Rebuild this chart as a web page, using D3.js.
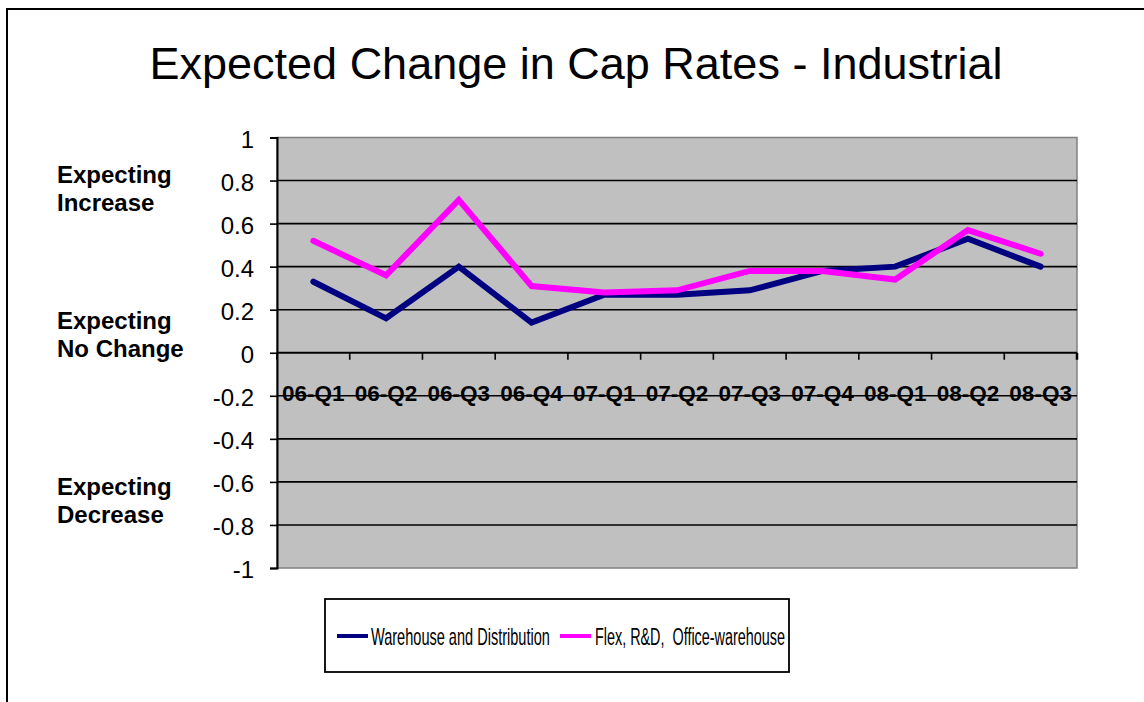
<!DOCTYPE html>
<html><head><meta charset="utf-8">
<script src="https://cdn.jsdelivr.net/npm/d3@7"></script>
<style>html,body{margin:0;padding:0;background:#fff;}svg{display:block;font-family:"Liberation Sans",Arial,sans-serif;}</style>
</head><body>
<script>
const categories = ["06-Q1","06-Q2","06-Q3","06-Q4","07-Q1","07-Q2","07-Q3","07-Q4","08-Q1","08-Q2","08-Q3"];
const warehouse = [0.33,0.16,0.40,0.14,0.27,0.27,0.29,0.38,0.40,0.53,0.40];
const flex = [0.52,0.36,0.71,0.31,0.28,0.29,0.38,0.38,0.34,0.57,0.46];
const yTicks = [1,0.8,0.6,0.4,0.2,0,-0.2,-0.4,-0.6,-0.8,-1];
const seriesNames = ["Warehouse and Distribution","Flex, R&D,\u00a0 Office-warehouse"];
const seriesColors = ["#000080","#FF00FF"];
const sideLabels = [["Expecting","Increase",0.8],["Expecting","No Change",0.12],["Expecting","Decrease",-0.65]];

const W=1144,H=702;
const svg=d3.select("body").append("svg").attr("width",W).attr("height",H);
svg.append("rect").attr("x",7).attr("y",9).attr("width",W+10).attr("height",H+10)
  .attr("fill","#fff").attr("stroke","#000").attr("stroke-width",2);

const L=277,R=1077,T=137.5,B=568;
const x=d3.scaleBand().domain(categories).range([L,R]);
const y=d3.scaleLinear().domain([-1,1]).range([B,T]);

svg.append("text").attr("x",576).attr("y",79).attr("text-anchor","middle")
  .attr("font-size",45).attr("fill","#000").text("Expected Change in Cap Rates - Industrial");

svg.append("rect").attr("x",L).attr("y",T).attr("width",R-L).attr("height",B-T)
  .attr("fill","#C0C0C0").attr("stroke","#808080").attr("stroke-width",1.5);

// gridlines
svg.append("g").selectAll("line").data(yTicks.filter(d=>d<1&&d>-1&&d!==0)).join("line")
  .attr("x1",L).attr("x2",R).attr("y1",d=>y(d)).attr("y2",d=>y(d))
  .attr("stroke","#000").attr("stroke-width",1.6);

// y axis
const yAxis=d3.axisLeft(y).tickValues(yTicks).tickSize(7).tickFormat(d=>String(d));
const gy=svg.append("g").attr("transform",`translate(${L},0)`).call(yAxis);
gy.select(".domain").attr("stroke","#000").attr("stroke-width",2);
gy.selectAll(".tick line").attr("stroke","#000").attr("stroke-width",1.6);
gy.selectAll(".tick text").attr("font-size",24).attr("fill","#000").attr("font-family","Liberation Sans, Arial, sans-serif")
  .attr("x",-23).attr("dy","0.4em");

// x axis at zero
svg.append("line").attr("x1",L).attr("x2",R).attr("y1",y(0)).attr("y2",y(0)).attr("stroke","#000").attr("stroke-width",1.8);
const bounds=categories.map(c=>x(c)).concat([R]);
svg.append("g").selectAll("line").data(bounds).join("line")
  .attr("x1",d=>d).attr("x2",d=>d).attr("y1",y(0)).attr("y2",y(0)+7)
  .attr("stroke","#000").attr("stroke-width",(d,i)=>i===bounds.length-1?2.5:1.6);
svg.append("g").selectAll("text").data(categories).join("text")
  .attr("x",d=>x(d)+x.bandwidth()/2).attr("y",401).attr("text-anchor","middle")
  .attr("font-size",22.5).attr("font-weight","bold").attr("fill","#000").text(d=>d);

// lines
const line=d3.line().x((d,i)=>x(categories[i])+x.bandwidth()/2).y(d=>y(d));
[warehouse,flex].forEach((s,k)=>{
  svg.append("path").datum(s).attr("d",line).attr("fill","none")
    .attr("stroke",seriesColors[k]).attr("stroke-width",6).attr("stroke-linejoin","miter").attr("stroke-linecap","round");
});

// side labels
sideLabels.forEach(([a,b,v])=>{
  const t=svg.append("text").attr("font-size",24).attr("font-weight","bold").attr("fill","#000");
  const by=y(v);
  t.append("tspan").attr("x",57).attr("y",by+2.5).text(a);
  t.append("tspan").attr("x",57).attr("y",by+30.5).text(b);
});

// legend
svg.append("rect").attr("x",325).attr("y",599).attr("width",464).attr("height",73)
  .attr("fill","#fff").attr("stroke","#000").attr("stroke-width",1.8);
const legItems=[{lx:337,tx:371,tw:179},{lx:560,tx:595,tw:190}];
legItems.forEach((it,k)=>{
  svg.append("line").attr("x1",it.lx).attr("x2",it.lx+31).attr("y1",636).attr("y2",636)
    .attr("stroke",seriesColors[k]).attr("stroke-width",4);
  const t=svg.append("text").attr("x",0).attr("y",0).attr("font-size",23).attr("fill","#000")
    .text(seriesNames[k]);
  const w=t.node().getComputedTextLength();
  t.attr("transform",`translate(${it.tx},645) scale(${it.tw/w},1)`);
});
</script>
</body></html>
